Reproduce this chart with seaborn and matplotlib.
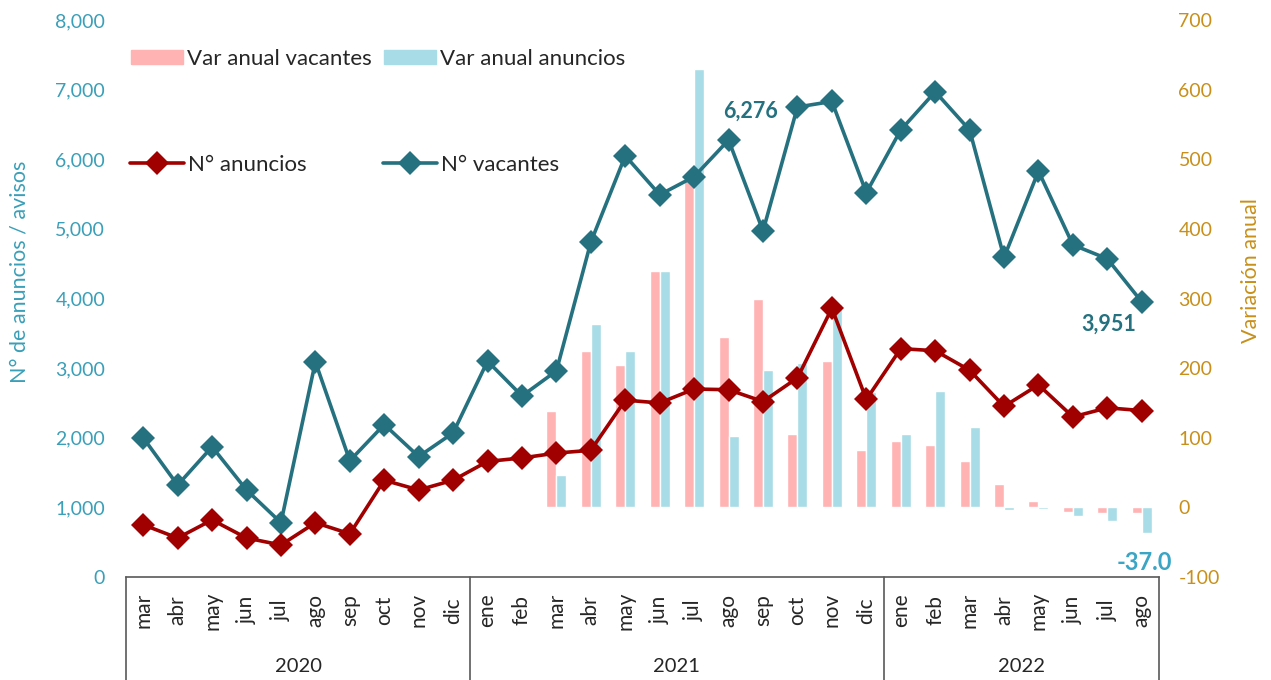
import numpy as np
import pandas as pd
import matplotlib.pyplot as plt
import seaborn as sns
from matplotlib.patches import Patch
import matplotlib.transforms as mtransforms

sns.set_style("white")
plt.rcParams["font.family"] = ["Lato", "DejaVu Sans"]
plt.rcParams["axes.unicode_minus"] = False

# data
meses = ["mar", "abr", "may", "jun", "jul", "ago", "sep", "oct", "nov", "dic",
         "ene", "feb", "mar", "abr", "may", "jun", "jul", "ago", "sep", "oct", "nov", "dic",
         "ene", "feb", "mar", "abr", "may", "jun", "jul", "ago"]
anios = ["2020", "2021", "2022"]
meses_por_anio = [10, 12, 8]

vacantes = [2000, 1320, 1870, 1250, 780, 3090, 1670, 2190, 1730, 2070,
            3100, 2600, 2960, 4810, 6050, 5490, 5750, 6276, 4970, 6750, 6830, 5520,
            6420, 6970, 6420, 4590, 5830, 4770, 4570, 3951]
anuncios = [750, 560, 820, 560, 460, 780, 620, 1390, 1250, 1390,
            1660, 1710, 1780, 1820, 2540, 2500, 2700, 2690, 2520, 2860, 3860, 2550,
            3280, 3250, 2970, 2450, 2760, 2300, 2430, 2390]

# annual variation starts in mar 2021
var_vacantes = [138, 225, 204, 339, 478, 244, 300, 105, 210, 83,
                95, 89, 66, 34, 9, -7, -8, -8]
var_anuncios = [47, 263, 224, 340, 629, 102, 197, 207, 292, 165,
                106, 167, 116, -4, -3, -13, -20, -37]
inicio_var = 12

teal = "#25717f"
red = "#a00000"
pink = "#ffb3b3"
lightblue = "#a8dce6"
left_col = "#3a9fb8"
right_col = "#c8901a"
text_col = "#262626"

idx = np.arange(len(meses))
df_lines = pd.DataFrame({"idx": idx, "vacantes": vacantes, "anuncios": anuncios})
idx_var = idx[inicio_var:]
df_bars = pd.concat([
    pd.DataFrame({"idx": idx_var, "serie": "Var anual vacantes", "valor": var_vacantes}),
    pd.DataFrame({"idx": idx_var, "serie": "Var anual anuncios", "valor": var_anuncios}),
])

fig = plt.figure(figsize=(12.71, 6.8), dpi=100)
ax = fig.add_axes([126 / 1271, 103 / 680, 1033 / 1271, 557 / 680])
ax2 = ax.twinx()

sns.barplot(data=df_bars, x="idx", y="valor", hue="serie",
            hue_order=["Var anual vacantes", "Var anual anuncios"],
            palette=[pink, lightblue], native_scale=True, width=0.58,
            errorbar=None, legend=False, ax=ax2, saturation=1)

sns.lineplot(data=df_lines, x="idx", y="vacantes", ax=ax, color=teal, marker="D",
             markersize=12, markeredgewidth=0, linewidth=2.6, label="N° vacantes")
sns.lineplot(data=df_lines, x="idx", y="anuncios", ax=ax, color=red, marker="D",
             markersize=12, markeredgewidth=0, linewidth=2.6, label="N° anuncios")

# lines on top of the bars
ax.set_zorder(ax2.get_zorder() + 1)
ax.patch.set_visible(False)

ax.set_xlim(-0.5, len(meses) - 0.5)
ax.set_ylim(0, 8000)
ax2.set_ylim(-100, 700)
ax.set_yticks(range(0, 8001, 1000))
ax.set_yticklabels([f"{v:,}" for v in range(0, 8001, 1000)])
ax2.set_yticks(range(-100, 701, 100))
ax.tick_params(axis="y", length=0, pad=15, labelsize=14, labelcolor=left_col)
ax2.tick_params(axis="y", length=0, pad=14, labelsize=14, labelcolor=right_col)

ax.set_xticks(idx)
ax.set_xticklabels(meses, rotation=90, fontsize=15, color=text_col, va="center")
ax.tick_params(axis="x", length=0, pad=24)
ax.set_xlabel("")
ax2.set_xlabel("")

ax.set_ylabel("N° de anuncios / avisos", fontsize=15.5, color=left_col)
ax.yaxis.set_label_coords(-0.093, 0.548)
ax2.set_ylabel("Variación anual", fontsize=15.5, color=right_col)
ax2.yaxis.set_label_coords(1.079, 0.551)

for a in (ax, ax2):
    for s in a.spines.values():
        s.set_visible(False)
ax.spines["bottom"].set_visible(True)
ax.spines["bottom"].set_color("#595959")
ax.spines["bottom"].set_linewidth(1.2)

# multi-level category boxes
trans = mtransforms.blended_transform_factory(ax.transData, ax.transAxes)
bordes = np.concatenate([[0], np.cumsum(meses_por_anio)]) - 0.5
for b in bordes:
    ax.plot([b, b], [0, -0.2], transform=trans, color="#595959", lw=1.2, clip_on=False)
for i, anio in enumerate(anios):
    ax.text((bordes[i] + bordes[i + 1]) / 2, -0.161, anio, transform=trans,
            ha="center", va="center", fontsize=14.5, color=text_col)

# data labels
ax.annotate("6,276", (17, vacantes[17]), xytext=(16, 21), textcoords="offset points",
            ha="center", va="center", fontsize=15.5, fontweight="bold", color=teal)
ax.annotate("3,951", (29, vacantes[29]), xytext=(-24, -16), textcoords="offset points",
            ha="center", va="center", fontsize=15.5, fontweight="bold", color=teal)
ax2.annotate("-37.0", (29.15, var_anuncios[-1]), xytext=(-2, -21), textcoords="offset points",
             ha="center", va="center", fontsize=17, fontweight="bold", color="#3aa5c4")

# legends
bar_handles = [Patch(color=pink), Patch(color=lightblue)]
fig.legend(bar_handles, ["Var anual vacantes", "Var anual anuncios"],
           loc="center left", bbox_to_anchor=(131 / 1271, 1 - 59 / 680),
           ncol=2, frameon=False, fontsize=16, handlelength=2.35,
           handleheight=0.63, handletextpad=0.18, columnspacing=0.54,
           borderpad=0, borderaxespad=0, labelcolor=text_col)
h, l = ax.get_legend_handles_labels()
order = [l.index("N° anuncios"), l.index("N° vacantes")]
if ax.get_legend() is not None:
    ax.get_legend().remove()
fig.legend([h[i] for i in order], [l[i] for i in order],
           loc="center left", bbox_to_anchor=(130 / 1271, 1 - 165 / 680),
           ncol=2, frameon=False, fontsize=16, handlelength=2.45,
           handletextpad=0.18, columnspacing=3.4, borderpad=0,
           borderaxespad=0, labelcolor=text_col)

fig.savefig("out.png", dpi=100)
